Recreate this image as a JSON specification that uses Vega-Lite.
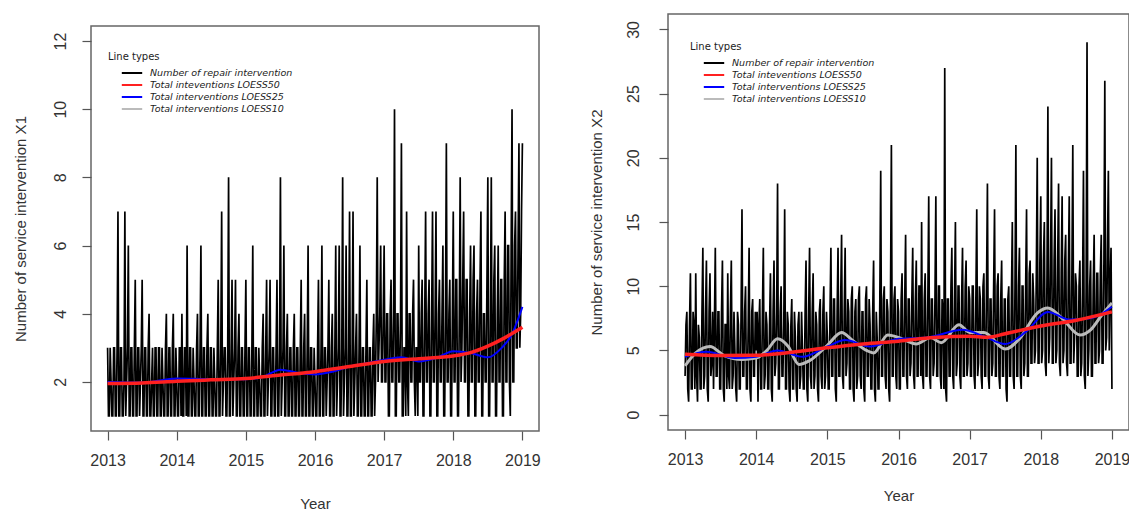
{
"$schema": "https://vega.github.io/schema/vega-lite/v6.json",
"background": "white",
"padding": {"left": 12, "top": 13, "right": 0, "bottom": 0},
"spacing": 47,
"config": {
  "font": "Liberation Sans",
  "view": {"stroke": "#666", "strokeWidth": 1.5},
  "axis": {"grid": false, "domain": false, "tickColor": "#555", "tickSize": 9, "tickWidth": 1.2, "labelFontSize": 16, "labelColor": "#333", "titleFontSize": 15, "titleFontWeight": "normal", "titleColor": "#333", "offset": 0},
  "legend": {"symbolType": "M-1.7,0H1.7", "symbolStrokeWidth": 2, "symbolSize": 144, "symbolOffset": 17, "labelOffset": 11, "labelFont": "DejaVu Sans", "labelFontStyle": "italic", "labelFontSize": 9.5, "titleFont": "DejaVu Sans", "titleFontSize": 10, "titleFontWeight": "normal", "rowPadding": 0, "titlePadding": 4, "labelColor": "#222", "titleColor": "#222", "padding": 0}
},
"datasets": {
  "x1": [
{"t":2013,"v":3},{"t":2013.0125,"v":1},{"t":2013.025,"v":1},{"t":2013.0375,"v":3},{"t":2013.05,"v":2},{"t":2013.0625,"v":1},{"t":2013.075,"v":1},{"t":2013.0875,"v":3},
{"t":2013.1,"v":3},{"t":2013.1125,"v":1},{"t":2013.125,"v":1},{"t":2013.1375,"v":3},{"t":2013.15,"v":7},{"t":2013.1625,"v":1},{"t":2013.175,"v":1},{"t":2013.1875,"v":3},
{"t":2013.2,"v":3},{"t":2013.2125,"v":1},{"t":2013.225,"v":1},{"t":2013.2375,"v":2},{"t":2013.25,"v":7},{"t":2013.2625,"v":1},{"t":2013.275,"v":2},{"t":2013.2875,"v":3},
{"t":2013.3,"v":6},{"t":2013.3125,"v":1},{"t":2013.325,"v":1},{"t":2013.3375,"v":3},{"t":2013.35,"v":3},{"t":2013.3625,"v":1},{"t":2013.375,"v":1},{"t":2013.3875,"v":3},
{"t":2013.4,"v":5},{"t":2013.4125,"v":1},{"t":2013.425,"v":1},{"t":2013.4375,"v":3},{"t":2013.45,"v":3},{"t":2013.4625,"v":1},{"t":2013.475,"v":2},{"t":2013.4875,"v":3},
{"t":2013.5,"v":5},{"t":2013.5125,"v":1},{"t":2013.525,"v":1},{"t":2013.5375,"v":3},{"t":2013.55,"v":3},{"t":2013.5625,"v":1},{"t":2013.575,"v":1},{"t":2013.5875,"v":3},
{"t":2013.6,"v":4},{"t":2013.6125,"v":1},{"t":2013.625,"v":1},{"t":2013.6375,"v":2},{"t":2013.65,"v":3},{"t":2013.6625,"v":1},{"t":2013.675,"v":1},{"t":2013.6875,"v":3},
{"t":2013.7,"v":3},{"t":2013.7125,"v":1},{"t":2013.725,"v":1},{"t":2013.7375,"v":3},{"t":2013.75,"v":3},{"t":2013.7625,"v":1},{"t":2013.775,"v":1},{"t":2013.7875,"v":3},
{"t":2013.8,"v":2},{"t":2013.8125,"v":1},{"t":2013.825,"v":1},{"t":2013.8375,"v":3},{"t":2013.85,"v":4},{"t":2013.8625,"v":1},{"t":2013.875,"v":1},{"t":2013.8875,"v":3},
{"t":2013.9,"v":3},{"t":2013.9125,"v":1},{"t":2013.925,"v":1},{"t":2013.9375,"v":3},{"t":2013.95,"v":4},{"t":2013.9625,"v":1},{"t":2013.975,"v":1},{"t":2013.9875,"v":3},
{"t":2014,"v":2},{"t":2014.0125,"v":1},{"t":2014.025,"v":1},{"t":2014.0375,"v":3},{"t":2014.05,"v":3},{"t":2014.0625,"v":1},{"t":2014.075,"v":4},{"t":2014.0875,"v":1},
{"t":2014.1,"v":1},{"t":2014.1125,"v":3},{"t":2014.125,"v":3},{"t":2014.1375,"v":1},{"t":2014.15,"v":6},{"t":2014.1625,"v":1},{"t":2014.175,"v":1},{"t":2014.1875,"v":3},
{"t":2014.2,"v":3},{"t":2014.2125,"v":1},{"t":2014.225,"v":1},{"t":2014.2375,"v":3},{"t":2014.25,"v":2},{"t":2014.2625,"v":1},{"t":2014.275,"v":1},{"t":2014.2875,"v":3},
{"t":2014.3,"v":4},{"t":2014.3125,"v":1},{"t":2014.325,"v":1},{"t":2014.3375,"v":3},{"t":2014.35,"v":6},{"t":2014.3625,"v":1},{"t":2014.375,"v":1},{"t":2014.3875,"v":3},
{"t":2014.4,"v":3},{"t":2014.4125,"v":1},{"t":2014.425,"v":1},{"t":2014.4375,"v":3},{"t":2014.45,"v":4},{"t":2014.4625,"v":1},{"t":2014.475,"v":1},{"t":2014.4875,"v":3},
{"t":2014.5,"v":3},{"t":2014.5125,"v":1},{"t":2014.525,"v":1},{"t":2014.5375,"v":3},{"t":2014.55,"v":2},{"t":2014.5625,"v":1},{"t":2014.575,"v":1},{"t":2014.5875,"v":3},
{"t":2014.6,"v":5},{"t":2014.6125,"v":1},{"t":2014.625,"v":1},{"t":2014.6375,"v":3},{"t":2014.65,"v":7},{"t":2014.6625,"v":1},{"t":2014.675,"v":2},{"t":2014.6875,"v":3},
{"t":2014.7,"v":3},{"t":2014.7125,"v":1},{"t":2014.725,"v":1},{"t":2014.7375,"v":3},{"t":2014.75,"v":8},{"t":2014.7625,"v":1},{"t":2014.775,"v":1},{"t":2014.7875,"v":3},
{"t":2014.8,"v":5},{"t":2014.8125,"v":1},{"t":2014.825,"v":2},{"t":2014.8375,"v":3},{"t":2014.85,"v":5},{"t":2014.8625,"v":1},{"t":2014.875,"v":1},{"t":2014.8875,"v":3},
{"t":2014.9,"v":4},{"t":2014.9125,"v":1},{"t":2014.925,"v":1},{"t":2014.9375,"v":3},{"t":2014.95,"v":3},{"t":2014.9625,"v":1},{"t":2014.975,"v":1},{"t":2014.9875,"v":3},
{"t":2015,"v":5},{"t":2015.0125,"v":1},{"t":2015.025,"v":1},{"t":2015.0375,"v":3},{"t":2015.05,"v":3},{"t":2015.0625,"v":1},{"t":2015.075,"v":1},{"t":2015.0875,"v":3},
{"t":2015.1,"v":6},{"t":2015.1125,"v":1},{"t":2015.125,"v":1},{"t":2015.1375,"v":3},{"t":2015.15,"v":3},{"t":2015.1625,"v":1},{"t":2015.175,"v":1},{"t":2015.1875,"v":3},
{"t":2015.2,"v":2},{"t":2015.2125,"v":1},{"t":2015.225,"v":1},{"t":2015.2375,"v":3},{"t":2015.25,"v":4},{"t":2015.2625,"v":1},{"t":2015.275,"v":1},{"t":2015.2875,"v":3},
{"t":2015.3,"v":5},{"t":2015.3125,"v":1},{"t":2015.325,"v":2},{"t":2015.3375,"v":3},{"t":2015.35,"v":5},{"t":2015.3625,"v":1},{"t":2015.375,"v":1},{"t":2015.3875,"v":3},
{"t":2015.4,"v":3},{"t":2015.4125,"v":1},{"t":2015.425,"v":1},{"t":2015.4375,"v":3},{"t":2015.45,"v":5},{"t":2015.4625,"v":1},{"t":2015.475,"v":1},{"t":2015.4875,"v":3},
{"t":2015.5,"v":8},{"t":2015.5125,"v":1},{"t":2015.525,"v":2},{"t":2015.5375,"v":3},{"t":2015.55,"v":6},{"t":2015.5625,"v":1},{"t":2015.575,"v":1},{"t":2015.5875,"v":3},
{"t":2015.6,"v":4},{"t":2015.6125,"v":1},{"t":2015.625,"v":1},{"t":2015.6375,"v":3},{"t":2015.65,"v":3},{"t":2015.6625,"v":1},{"t":2015.675,"v":1},{"t":2015.6875,"v":3},
{"t":2015.7,"v":4},{"t":2015.7125,"v":1},{"t":2015.725,"v":1},{"t":2015.7375,"v":3},{"t":2015.75,"v":3},{"t":2015.7625,"v":1},{"t":2015.775,"v":1},{"t":2015.7875,"v":3},
{"t":2015.8,"v":5},{"t":2015.8125,"v":1},{"t":2015.825,"v":1},{"t":2015.8375,"v":3},{"t":2015.85,"v":4},{"t":2015.8625,"v":1},{"t":2015.875,"v":1},{"t":2015.8875,"v":3},
{"t":2015.9,"v":6},{"t":2015.9125,"v":1},{"t":2015.925,"v":1},{"t":2015.9375,"v":3},{"t":2015.95,"v":3},{"t":2015.9625,"v":1},{"t":2015.975,"v":1},{"t":2015.9875,"v":3},
{"t":2016,"v":2},{"t":2016.0125,"v":1},{"t":2016.025,"v":1},{"t":2016.0375,"v":3},{"t":2016.05,"v":5},{"t":2016.0625,"v":1},{"t":2016.075,"v":1},{"t":2016.0875,"v":3},
{"t":2016.1,"v":6},{"t":2016.1125,"v":1},{"t":2016.125,"v":1},{"t":2016.1375,"v":3},{"t":2016.15,"v":3},{"t":2016.1625,"v":1},{"t":2016.175,"v":2},{"t":2016.1875,"v":3},
{"t":2016.2,"v":5},{"t":2016.2125,"v":1},{"t":2016.225,"v":1},{"t":2016.2375,"v":3},{"t":2016.25,"v":4},{"t":2016.2625,"v":1},{"t":2016.275,"v":1},{"t":2016.2875,"v":3},
{"t":2016.3,"v":6},{"t":2016.3125,"v":1},{"t":2016.325,"v":2},{"t":2016.3375,"v":3},{"t":2016.35,"v":6},{"t":2016.3625,"v":1},{"t":2016.375,"v":1},{"t":2016.3875,"v":3},
{"t":2016.4,"v":8},{"t":2016.4125,"v":1},{"t":2016.425,"v":2},{"t":2016.4375,"v":3},{"t":2016.45,"v":6},{"t":2016.4625,"v":1},{"t":2016.475,"v":1},{"t":2016.4875,"v":3},
{"t":2016.5,"v":7},{"t":2016.5125,"v":1},{"t":2016.525,"v":1},{"t":2016.5375,"v":3},{"t":2016.55,"v":7},{"t":2016.5625,"v":1},{"t":2016.575,"v":2},{"t":2016.5875,"v":3},
{"t":2016.6,"v":4},{"t":2016.6125,"v":1},{"t":2016.625,"v":1},{"t":2016.6375,"v":3},{"t":2016.65,"v":6},{"t":2016.6625,"v":1},{"t":2016.675,"v":1},{"t":2016.6875,"v":3},
{"t":2016.7,"v":3},{"t":2016.7125,"v":1},{"t":2016.725,"v":1},{"t":2016.7375,"v":3},{"t":2016.75,"v":5},{"t":2016.7625,"v":1},{"t":2016.775,"v":1},{"t":2016.7875,"v":3},
{"t":2016.8,"v":3},{"t":2016.8125,"v":1},{"t":2016.825,"v":1},{"t":2016.8375,"v":3},{"t":2016.85,"v":4},{"t":2016.8625,"v":1},{"t":2016.875,"v":2},{"t":2016.8875,"v":4},
{"t":2016.9,"v":8},{"t":2016.9125,"v":2},{"t":2016.925,"v":3},{"t":2016.9375,"v":4},{"t":2016.95,"v":6},{"t":2016.9625,"v":2},{"t":2016.975,"v":2},{"t":2016.9875,"v":4},
{"t":2017,"v":6},{"t":2017.0125,"v":2},{"t":2017.025,"v":2},{"t":2017.0375,"v":4},{"t":2017.05,"v":4},{"t":2017.0625,"v":1},{"t":2017.075,"v":1},{"t":2017.0875,"v":4},
{"t":2017.1,"v":5},{"t":2017.1125,"v":2},{"t":2017.125,"v":2},{"t":2017.1375,"v":4},{"t":2017.15,"v":10},{"t":2017.1625,"v":1},{"t":2017.175,"v":1},{"t":2017.1875,"v":4},
{"t":2017.2,"v":4},{"t":2017.2125,"v":2},{"t":2017.225,"v":2},{"t":2017.2375,"v":4},{"t":2017.25,"v":9},{"t":2017.2625,"v":1},{"t":2017.275,"v":1},{"t":2017.2875,"v":3},
{"t":2017.3,"v":3},{"t":2017.3125,"v":1},{"t":2017.325,"v":7},{"t":2017.3375,"v":2},{"t":2017.35,"v":1},{"t":2017.3625,"v":4},{"t":2017.375,"v":4},{"t":2017.3875,"v":2},
{"t":2017.4,"v":2},{"t":2017.4125,"v":4},{"t":2017.425,"v":5},{"t":2017.4375,"v":2},{"t":2017.45,"v":1},{"t":2017.4625,"v":3},{"t":2017.475,"v":3},{"t":2017.4875,"v":1},
{"t":2017.5,"v":6},{"t":2017.5125,"v":2},{"t":2017.525,"v":2},{"t":2017.5375,"v":4},{"t":2017.55,"v":5},{"t":2017.5625,"v":1},{"t":2017.575,"v":1},{"t":2017.5875,"v":4},
{"t":2017.6,"v":7},{"t":2017.6125,"v":2},{"t":2017.625,"v":2},{"t":2017.6375,"v":4},{"t":2017.65,"v":5},{"t":2017.6625,"v":1},{"t":2017.675,"v":1},{"t":2017.6875,"v":4},
{"t":2017.7,"v":7},{"t":2017.7125,"v":2},{"t":2017.725,"v":2},{"t":2017.7375,"v":4},{"t":2017.75,"v":7},{"t":2017.7625,"v":1},{"t":2017.775,"v":1},{"t":2017.7875,"v":4},
{"t":2017.8,"v":5},{"t":2017.8125,"v":2},{"t":2017.825,"v":2},{"t":2017.8375,"v":4},{"t":2017.85,"v":6},{"t":2017.8625,"v":1},{"t":2017.875,"v":1},{"t":2017.8875,"v":4},
{"t":2017.9,"v":9},{"t":2017.9125,"v":2},{"t":2017.925,"v":2},{"t":2017.9375,"v":4},{"t":2017.95,"v":5},{"t":2017.9625,"v":1},{"t":2017.975,"v":1},{"t":2017.9875,"v":4},
{"t":2018,"v":7},{"t":2018.0125,"v":2},{"t":2018.025,"v":2},{"t":2018.0375,"v":5},{"t":2018.05,"v":5},{"t":2018.0625,"v":1},{"t":2018.075,"v":1},{"t":2018.0875,"v":4},
{"t":2018.1,"v":8},{"t":2018.1125,"v":2},{"t":2018.125,"v":3},{"t":2018.1375,"v":5},{"t":2018.15,"v":7},{"t":2018.1625,"v":2},{"t":2018.175,"v":2},{"t":2018.1875,"v":5},
{"t":2018.2,"v":5},{"t":2018.2125,"v":1},{"t":2018.225,"v":1},{"t":2018.2375,"v":4},{"t":2018.25,"v":6},{"t":2018.2625,"v":2},{"t":2018.275,"v":2},{"t":2018.2875,"v":5},
{"t":2018.3,"v":6},{"t":2018.3125,"v":1},{"t":2018.325,"v":1},{"t":2018.3375,"v":4},{"t":2018.35,"v":5},{"t":2018.3625,"v":2},{"t":2018.375,"v":2},{"t":2018.3875,"v":5},
{"t":2018.4,"v":7},{"t":2018.4125,"v":1},{"t":2018.425,"v":1},{"t":2018.4375,"v":4},{"t":2018.45,"v":4},{"t":2018.4625,"v":2},{"t":2018.475,"v":2},{"t":2018.4875,"v":5},
{"t":2018.5,"v":8},{"t":2018.5125,"v":1},{"t":2018.525,"v":1},{"t":2018.5375,"v":4},{"t":2018.55,"v":8},{"t":2018.5625,"v":2},{"t":2018.575,"v":2},{"t":2018.5875,"v":5},
{"t":2018.6,"v":6},{"t":2018.6125,"v":1},{"t":2018.625,"v":1},{"t":2018.6375,"v":4},{"t":2018.65,"v":6},{"t":2018.6625,"v":2},{"t":2018.675,"v":2},{"t":2018.6875,"v":5},
{"t":2018.7,"v":5},{"t":2018.7125,"v":1},{"t":2018.725,"v":1},{"t":2018.7375,"v":5},{"t":2018.75,"v":7},{"t":2018.7625,"v":2},{"t":2018.775,"v":2},{"t":2018.7875,"v":6},
{"t":2018.8,"v":6},{"t":2018.8125,"v":2},{"t":2018.825,"v":1},{"t":2018.8375,"v":6},{"t":2018.85,"v":10},{"t":2018.8625,"v":2},{"t":2018.875,"v":2},{"t":2018.8875,"v":6},
{"t":2018.9,"v":7},{"t":2018.9125,"v":3},{"t":2018.925,"v":3},{"t":2018.9375,"v":6},{"t":2018.95,"v":9},{"t":2018.9625,"v":3},{"t":2018.975,"v":4},{"t":2018.9875,"v":7},
{"t":2019,"v":9}
  ],
  "x1r50": [
{"t":2013,"v":1.95},{"t":2013.5,"v":1.97},{"t":2014,"v":2.02},{"t":2014.5,"v":2.06},{"t":2015,"v":2.1},{"t":2015.5,"v":2.2},{"t":2016,"v":2.3},{"t":2016.5,"v":2.45},{"t":2017,"v":2.6},{"t":2017.5,"v":2.68},{"t":2018,"v":2.76},{"t":2018.25,"v":2.86},{"t":2018.5,"v":3.05},{"t":2018.75,"v":3.3},{"t":2019,"v":3.6}
  ],
  "x1r25": [
{"t":2013,"v":2.0},{"t":2013.5,"v":1.98},{"t":2014,"v":2.1},{"t":2014.5,"v":2.08},{"t":2015,"v":2.08},{"t":2015.25,"v":2.15},{"t":2015.5,"v":2.36},{"t":2015.75,"v":2.27},{"t":2016,"v":2.22},{"t":2016.25,"v":2.3},{"t":2016.5,"v":2.45},{"t":2016.75,"v":2.55},{"t":2017,"v":2.65},{"t":2017.25,"v":2.72},{"t":2017.5,"v":2.6},{"t":2017.75,"v":2.7},{"t":2018,"v":2.9},{"t":2018.25,"v":2.85},{"t":2018.5,"v":2.72},{"t":2018.7,"v":3.0},{"t":2018.85,"v":3.4},{"t":2019,"v":4.2}
  ],
  "x2": [
{"t":2013,"v":3},{"t":2013.0125,"v":7},{"t":2013.025,"v":8},{"t":2013.0375,"v":2},{"t":2013.05,"v":1},{"t":2013.0625,"v":7},{"t":2013.075,"v":11},{"t":2013.0875,"v":2},
{"t":2013.1,"v":2},{"t":2013.1125,"v":8},{"t":2013.125,"v":7},{"t":2013.1375,"v":2},{"t":2013.15,"v":11},{"t":2013.1625,"v":3},{"t":2013.175,"v":1},{"t":2013.1875,"v":7},
{"t":2013.2,"v":6},{"t":2013.2125,"v":2},{"t":2013.225,"v":2},{"t":2013.2375,"v":8},{"t":2013.25,"v":13},{"t":2013.2625,"v":2},{"t":2013.275,"v":3},{"t":2013.2875,"v":8},
{"t":2013.3,"v":12},{"t":2013.3125,"v":2},{"t":2013.325,"v":1},{"t":2013.3375,"v":8},{"t":2013.35,"v":11},{"t":2013.3625,"v":3},{"t":2013.375,"v":4},{"t":2013.3875,"v":8},
{"t":2013.4,"v":2},{"t":2013.4125,"v":7},{"t":2013.425,"v":13},{"t":2013.4375,"v":3},{"t":2013.45,"v":3},{"t":2013.4625,"v":8},{"t":2013.475,"v":8},{"t":2013.4875,"v":2},
{"t":2013.5,"v":2},{"t":2013.5125,"v":8},{"t":2013.525,"v":12},{"t":2013.5375,"v":2},{"t":2013.55,"v":1},{"t":2013.5625,"v":7},{"t":2013.575,"v":7},{"t":2013.5875,"v":2},
{"t":2013.6,"v":11},{"t":2013.6125,"v":3},{"t":2013.625,"v":2},{"t":2013.6375,"v":8},{"t":2013.65,"v":12},{"t":2013.6625,"v":2},{"t":2013.675,"v":3},{"t":2013.6875,"v":8},
{"t":2013.7,"v":5},{"t":2013.7125,"v":2},{"t":2013.725,"v":1},{"t":2013.7375,"v":8},{"t":2013.75,"v":7},{"t":2013.7625,"v":2},{"t":2013.775,"v":2},{"t":2013.7875,"v":8},
{"t":2013.8,"v":16},{"t":2013.8125,"v":3},{"t":2013.825,"v":3},{"t":2013.8375,"v":8},{"t":2013.85,"v":10},{"t":2013.8625,"v":2},{"t":2013.875,"v":2},{"t":2013.8875,"v":7},
{"t":2013.9,"v":13},{"t":2013.9125,"v":2},{"t":2013.925,"v":1},{"t":2013.9375,"v":8},{"t":2013.95,"v":9},{"t":2013.9625,"v":3},{"t":2013.975,"v":3},{"t":2013.9875,"v":8},
{"t":2014,"v":5},{"t":2014.0125,"v":8},{"t":2014.025,"v":1},{"t":2014.0375,"v":7},{"t":2014.05,"v":9},{"t":2014.0625,"v":2},{"t":2014.075,"v":2},{"t":2014.0875,"v":8},
{"t":2014.1,"v":13},{"t":2014.1125,"v":2},{"t":2014.125,"v":3},{"t":2014.1375,"v":8},{"t":2014.15,"v":7},{"t":2014.1625,"v":2},{"t":2014.175,"v":2},{"t":2014.1875,"v":7},
{"t":2014.2,"v":11},{"t":2014.2125,"v":2},{"t":2014.225,"v":1},{"t":2014.2375,"v":8},{"t":2014.25,"v":12},{"t":2014.2625,"v":3},{"t":2014.275,"v":4},{"t":2014.2875,"v":8},
{"t":2014.3,"v":18},{"t":2014.3125,"v":2},{"t":2014.325,"v":2},{"t":2014.3375,"v":8},{"t":2014.35,"v":10},{"t":2014.3625,"v":3},{"t":2014.375,"v":3},{"t":2014.3875,"v":7},
{"t":2014.4,"v":16},{"t":2014.4125,"v":2},{"t":2014.425,"v":2},{"t":2014.4375,"v":8},{"t":2014.45,"v":7},{"t":2014.4625,"v":2},{"t":2014.475,"v":1},{"t":2014.4875,"v":7},
{"t":2014.5,"v":9},{"t":2014.5125,"v":2},{"t":2014.525,"v":2},{"t":2014.5375,"v":8},{"t":2014.55,"v":6},{"t":2014.5625,"v":2},{"t":2014.575,"v":1},{"t":2014.5875,"v":7},
{"t":2014.6,"v":8},{"t":2014.6125,"v":2},{"t":2014.625,"v":3},{"t":2014.6375,"v":8},{"t":2014.65,"v":5},{"t":2014.6625,"v":2},{"t":2014.675,"v":2},{"t":2014.6875,"v":8},
{"t":2014.7,"v":12},{"t":2014.7125,"v":2},{"t":2014.725,"v":1},{"t":2014.7375,"v":8},{"t":2014.75,"v":13},{"t":2014.7625,"v":3},{"t":2014.775,"v":2},{"t":2014.7875,"v":8},
{"t":2014.8,"v":11},{"t":2014.8125,"v":2},{"t":2014.825,"v":3},{"t":2014.8375,"v":8},{"t":2014.85,"v":7},{"t":2014.8625,"v":2},{"t":2014.875,"v":1},{"t":2014.8875,"v":8},
{"t":2014.9,"v":9},{"t":2014.9125,"v":3},{"t":2014.925,"v":2},{"t":2014.9375,"v":8},{"t":2014.95,"v":10},{"t":2014.9625,"v":2},{"t":2014.975,"v":3},{"t":2014.9875,"v":8},
{"t":2015,"v":6},{"t":2015.0125,"v":2},{"t":2015.025,"v":2},{"t":2015.0375,"v":8},{"t":2015.05,"v":13},{"t":2015.0625,"v":3},{"t":2015.075,"v":3},{"t":2015.0875,"v":9},
{"t":2015.1,"v":9},{"t":2015.1125,"v":2},{"t":2015.125,"v":1},{"t":2015.1375,"v":8},{"t":2015.15,"v":13},{"t":2015.1625,"v":3},{"t":2015.175,"v":3},{"t":2015.1875,"v":9},
{"t":2015.2,"v":14},{"t":2015.2125,"v":3},{"t":2015.225,"v":2},{"t":2015.2375,"v":8},{"t":2015.25,"v":13},{"t":2015.2625,"v":3},{"t":2015.275,"v":4},{"t":2015.2875,"v":9},
{"t":2015.3,"v":8},{"t":2015.3125,"v":2},{"t":2015.325,"v":2},{"t":2015.3375,"v":9},{"t":2015.35,"v":10},{"t":2015.3625,"v":2},{"t":2015.375,"v":1},{"t":2015.3875,"v":8},
{"t":2015.4,"v":9},{"t":2015.4125,"v":2},{"t":2015.425,"v":3},{"t":2015.4375,"v":9},{"t":2015.45,"v":10},{"t":2015.4625,"v":3},{"t":2015.475,"v":2},{"t":2015.4875,"v":8},
{"t":2015.5,"v":8},{"t":2015.5125,"v":2},{"t":2015.525,"v":1},{"t":2015.5375,"v":9},{"t":2015.55,"v":10},{"t":2015.5625,"v":3},{"t":2015.575,"v":3},{"t":2015.5875,"v":9},
{"t":2015.6,"v":7},{"t":2015.6125,"v":2},{"t":2015.625,"v":2},{"t":2015.6375,"v":8},{"t":2015.65,"v":12},{"t":2015.6625,"v":2},{"t":2015.675,"v":1},{"t":2015.6875,"v":8},
{"t":2015.7,"v":6},{"t":2015.7125,"v":2},{"t":2015.725,"v":2},{"t":2015.7375,"v":9},{"t":2015.75,"v":19},{"t":2015.7625,"v":3},{"t":2015.775,"v":3},{"t":2015.7875,"v":9},
{"t":2015.8,"v":10},{"t":2015.8125,"v":3},{"t":2015.825,"v":2},{"t":2015.8375,"v":9},{"t":2015.85,"v":8},{"t":2015.8625,"v":2},{"t":2015.875,"v":1},{"t":2015.8875,"v":9},
{"t":2015.9,"v":21},{"t":2015.9125,"v":3},{"t":2015.925,"v":3},{"t":2015.9375,"v":9},{"t":2015.95,"v":10},{"t":2015.9625,"v":3},{"t":2015.975,"v":2},{"t":2015.9875,"v":9},
{"t":2016,"v":8},{"t":2016.0125,"v":2},{"t":2016.025,"v":2},{"t":2016.0375,"v":9},{"t":2016.05,"v":11},{"t":2016.0625,"v":3},{"t":2016.075,"v":3},{"t":2016.0875,"v":9},
{"t":2016.1,"v":14},{"t":2016.1125,"v":3},{"t":2016.125,"v":2},{"t":2016.1375,"v":9},{"t":2016.15,"v":9},{"t":2016.1625,"v":3},{"t":2016.175,"v":4},{"t":2016.1875,"v":9},
{"t":2016.2,"v":13},{"t":2016.2125,"v":3},{"t":2016.225,"v":2},{"t":2016.2375,"v":9},{"t":2016.25,"v":12},{"t":2016.2625,"v":3},{"t":2016.275,"v":3},{"t":2016.2875,"v":10},
{"t":2016.3,"v":10},{"t":2016.3125,"v":3},{"t":2016.325,"v":15},{"t":2016.3375,"v":3},{"t":2016.35,"v":2},{"t":2016.3625,"v":9},{"t":2016.375,"v":11},{"t":2016.3875,"v":3},
{"t":2016.4,"v":3},{"t":2016.4125,"v":9},{"t":2016.425,"v":17},{"t":2016.4375,"v":3},{"t":2016.45,"v":2},{"t":2016.4625,"v":9},{"t":2016.475,"v":9},{"t":2016.4875,"v":3},
{"t":2016.5,"v":4},{"t":2016.5125,"v":9},{"t":2016.525,"v":17},{"t":2016.5375,"v":3},{"t":2016.55,"v":3},{"t":2016.5625,"v":10},{"t":2016.575,"v":10},{"t":2016.5875,"v":3},
{"t":2016.6,"v":2},{"t":2016.6125,"v":9},{"t":2016.625,"v":8},{"t":2016.6375,"v":2},{"t":2016.65,"v":27},{"t":2016.6625,"v":2},{"t":2016.675,"v":1},{"t":2016.6875,"v":9},
{"t":2016.7,"v":9},{"t":2016.7125,"v":3},{"t":2016.725,"v":3},{"t":2016.7375,"v":10},{"t":2016.75,"v":13},{"t":2016.7625,"v":3},{"t":2016.775,"v":2},{"t":2016.7875,"v":9},
{"t":2016.8,"v":15},{"t":2016.8125,"v":3},{"t":2016.825,"v":4},{"t":2016.8375,"v":10},{"t":2016.85,"v":10},{"t":2016.8625,"v":3},{"t":2016.875,"v":2},{"t":2016.8875,"v":9},
{"t":2016.9,"v":13},{"t":2016.9125,"v":3},{"t":2016.925,"v":3},{"t":2016.9375,"v":10},{"t":2016.95,"v":12},{"t":2016.9625,"v":3},{"t":2016.975,"v":4},{"t":2016.9875,"v":10},
{"t":2017,"v":9},{"t":2017.0125,"v":3},{"t":2017.025,"v":3},{"t":2017.0375,"v":10},{"t":2017.05,"v":10},{"t":2017.0625,"v":3},{"t":2017.075,"v":2},{"t":2017.0875,"v":9},
{"t":2017.1,"v":16},{"t":2017.1125,"v":3},{"t":2017.125,"v":4},{"t":2017.1375,"v":10},{"t":2017.15,"v":9},{"t":2017.1625,"v":3},{"t":2017.175,"v":2},{"t":2017.1875,"v":10},
{"t":2017.2,"v":11},{"t":2017.2125,"v":3},{"t":2017.225,"v":3},{"t":2017.2375,"v":10},{"t":2017.25,"v":18},{"t":2017.2625,"v":3},{"t":2017.275,"v":2},{"t":2017.2875,"v":9},
{"t":2017.3,"v":9},{"t":2017.3125,"v":3},{"t":2017.325,"v":4},{"t":2017.3375,"v":10},{"t":2017.35,"v":16},{"t":2017.3625,"v":3},{"t":2017.375,"v":3},{"t":2017.3875,"v":10},
{"t":2017.4,"v":11},{"t":2017.4125,"v":3},{"t":2017.425,"v":2},{"t":2017.4375,"v":9},{"t":2017.45,"v":12},{"t":2017.4625,"v":3},{"t":2017.475,"v":3},{"t":2017.4875,"v":9},
{"t":2017.5,"v":9},{"t":2017.5125,"v":2},{"t":2017.525,"v":1},{"t":2017.5375,"v":9},{"t":2017.55,"v":10},{"t":2017.5625,"v":3},{"t":2017.575,"v":3},{"t":2017.5875,"v":9},
{"t":2017.6,"v":15},{"t":2017.6125,"v":3},{"t":2017.625,"v":2},{"t":2017.6375,"v":10},{"t":2017.65,"v":21},{"t":2017.6625,"v":3},{"t":2017.675,"v":3},{"t":2017.6875,"v":10},
{"t":2017.7,"v":13},{"t":2017.7125,"v":3},{"t":2017.725,"v":2},{"t":2017.7375,"v":10},{"t":2017.75,"v":10},{"t":2017.7625,"v":3},{"t":2017.775,"v":4},{"t":2017.7875,"v":10},
{"t":2017.8,"v":16},{"t":2017.8125,"v":3},{"t":2017.825,"v":3},{"t":2017.8375,"v":11},{"t":2017.85,"v":12},{"t":2017.8625,"v":4},{"t":2017.875,"v":4},{"t":2017.8875,"v":11},
{"t":2017.9,"v":9},{"t":2017.9125,"v":4},{"t":2017.925,"v":5},{"t":2017.9375,"v":11},{"t":2017.95,"v":20},{"t":2017.9625,"v":4},{"t":2017.975,"v":4},{"t":2017.9875,"v":12},
{"t":2018,"v":17},{"t":2018.0125,"v":4},{"t":2018.025,"v":5},{"t":2018.0375,"v":12},{"t":2018.05,"v":15},{"t":2018.0625,"v":4},{"t":2018.075,"v":3},{"t":2018.0875,"v":11},
{"t":2018.1,"v":24},{"t":2018.1125,"v":4},{"t":2018.125,"v":6},{"t":2018.1375,"v":12},{"t":2018.15,"v":20},{"t":2018.1625,"v":4},{"t":2018.175,"v":4},{"t":2018.1875,"v":12},
{"t":2018.2,"v":16},{"t":2018.2125,"v":4},{"t":2018.225,"v":5},{"t":2018.2375,"v":12},{"t":2018.25,"v":18},{"t":2018.2625,"v":4},{"t":2018.275,"v":3},{"t":2018.2875,"v":11},
{"t":2018.3,"v":17},{"t":2018.3125,"v":4},{"t":2018.325,"v":5},{"t":2018.3375,"v":12},{"t":2018.35,"v":14},{"t":2018.3625,"v":4},{"t":2018.375,"v":3},{"t":2018.3875,"v":11},
{"t":2018.4,"v":17},{"t":2018.4125,"v":4},{"t":2018.425,"v":4},{"t":2018.4375,"v":11},{"t":2018.45,"v":21},{"t":2018.4625,"v":4},{"t":2018.475,"v":6},{"t":2018.4875,"v":11},
{"t":2018.5,"v":10},{"t":2018.5125,"v":3},{"t":2018.525,"v":3},{"t":2018.5375,"v":10},{"t":2018.55,"v":12},{"t":2018.5625,"v":3},{"t":2018.575,"v":4},{"t":2018.5875,"v":10},
{"t":2018.6,"v":19},{"t":2018.6125,"v":3},{"t":2018.625,"v":2},{"t":2018.6375,"v":10},{"t":2018.65,"v":29},{"t":2018.6625,"v":3},{"t":2018.675,"v":5},{"t":2018.6875,"v":10},
{"t":2018.7,"v":12},{"t":2018.7125,"v":3},{"t":2018.725,"v":3},{"t":2018.7375,"v":10},{"t":2018.75,"v":14},{"t":2018.7625,"v":4},{"t":2018.775,"v":4},{"t":2018.7875,"v":11},
{"t":2018.8,"v":11},{"t":2018.8125,"v":4},{"t":2018.825,"v":5},{"t":2018.8375,"v":11},{"t":2018.85,"v":14},{"t":2018.8625,"v":4},{"t":2018.875,"v":4},{"t":2018.8875,"v":12},
{"t":2018.9,"v":26},{"t":2018.9125,"v":5},{"t":2018.925,"v":6},{"t":2018.9375,"v":13},{"t":2018.95,"v":19},{"t":2018.9625,"v":5},{"t":2018.975,"v":10},{"t":2018.9875,"v":13},
{"t":2019,"v":2}
  ],
  "x2r50": [
{"t":2013,"v":4.7},{"t":2013.5,"v":4.6},{"t":2014,"v":4.62},{"t":2014.5,"v":4.85},{"t":2015,"v":5.2},{"t":2015.5,"v":5.5},{"t":2016,"v":5.72},{"t":2016.5,"v":6.0},{"t":2017,"v":6.1},{"t":2017.25,"v":6.02},{"t":2017.5,"v":6.3},{"t":2018,"v":6.9},{"t":2018.5,"v":7.35},{"t":2019,"v":8.0}
  ],
  "x2r25": [
{"t":2013,"v":4.5},{"t":2013.3,"v":4.9},{"t":2013.7,"v":4.4},{"t":2014,"v":4.5},{"t":2014.3,"v":5.0},{"t":2014.65,"v":4.5},{"t":2015,"v":5.3},{"t":2015.25,"v":5.8},{"t":2015.6,"v":5.3},{"t":2016,"v":5.9},{"t":2016.4,"v":6.0},{"t":2016.9,"v":6.6},{"t":2017.2,"v":6.1},{"t":2017.5,"v":5.5},{"t":2017.8,"v":6.5},{"t":2018.1,"v":8.0},{"t":2018.4,"v":7.4},{"t":2018.7,"v":7.5},{"t":2019,"v":8.4}
  ],
  "x2r10": [
{"t":2013,"v":3.8},{"t":2013.15,"v":4.8},{"t":2013.35,"v":5.3},{"t":2013.55,"v":4.6},{"t":2013.8,"v":4.3},{"t":2014,"v":4.4},{"t":2014.15,"v":5.0},{"t":2014.3,"v":5.9},{"t":2014.45,"v":5.3},{"t":2014.6,"v":3.9},{"t":2014.75,"v":4.2},{"t":2015,"v":5.4},{"t":2015.2,"v":6.4},{"t":2015.35,"v":5.8},{"t":2015.55,"v":5.0},{"t":2015.65,"v":4.8},{"t":2015.85,"v":6.2},{"t":2016.05,"v":5.9},{"t":2016.25,"v":5.5},{"t":2016.45,"v":6.0},{"t":2016.6,"v":5.6},{"t":2016.85,"v":7.0},{"t":2017,"v":6.4},{"t":2017.2,"v":6.4},{"t":2017.5,"v":5.1},{"t":2017.7,"v":5.9},{"t":2017.95,"v":7.9},{"t":2018.1,"v":8.3},{"t":2018.3,"v":7.5},{"t":2018.55,"v":6.2},{"t":2018.7,"v":6.6},{"t":2018.85,"v":7.7},{"t":2019,"v":8.7}
  ]
},
"resolve": {"scale": {"color": "independent"}},
"hconcat": [
  {
    "spacing": 10,
    "vconcat": [
      {"width": 448, "height": 1, "data": {"values": []}, "mark": {"type": "point", "opacity": 0}, "view": {"stroke": null}},
      {
        "width": 448, "height": 405,
        "layer": [
          {"data": {"name": "x1"}, "mark": {"type": "line", "strokeWidth": 1.7},
           "encoding": {
             "x": {"field": "t", "type": "quantitative", "scale": {"domain": [2012.76, 2019.24], "nice": false, "zero": false},
                   "axis": {"values": [2013, 2014, 2015, 2016, 2017, 2018, 2019], "format": "d", "title": "Year", "labelPadding": 12, "titlePadding": 28}},
             "y": {"field": "v", "type": "quantitative", "scale": {"domain": [0.56, 12.44], "nice": false, "zero": false},
                   "axis": {"values": [2, 4, 6, 8, 10, 12], "labelAngle": -90, "labelAlign": "center", "labelBaseline": "bottom", "labelPadding": 14, "title": "Number of service intervention X1", "titlePadding": 24}},
             "color": {"datum": "Number of repair intervention", "type": "nominal",
                       "scale": {"domain": ["Number of repair intervention", "Total inteventions LOESS50", "Total interventions LOESS25", " Total interventions LOESS10"], "range": ["#000000", "#ff2020", "#0000ff", "#bbbbbb"]},
                       "legend": {"title": "Line types", "orient": "none", "legendX": 17, "legendY": 38}}
           }},
          {"data": {"name": "x1r25"}, "mark": {"type": "line", "strokeWidth": 2, "interpolate": "monotone"},
           "encoding": {"x": {"field": "t", "type": "quantitative"}, "y": {"field": "v", "type": "quantitative"}, "color": {"datum": "Total interventions LOESS25", "type": "nominal"}}},
          {"data": {"name": "x1r50"}, "mark": {"type": "line", "strokeWidth": 3.5, "interpolate": "monotone"},
           "encoding": {"x": {"field": "t", "type": "quantitative"}, "y": {"field": "v", "type": "quantitative"}, "color": {"datum": "Total inteventions LOESS50", "type": "nominal"}}}
        ]
      }
    ]
  },
  {
    "width": 461, "height": 416,
    "layer": [
      {"data": {"name": "x2"}, "mark": {"type": "line", "strokeWidth": 1.7},
       "encoding": {
         "x": {"field": "t", "type": "quantitative", "scale": {"domain": [2012.76, 2019.24], "nice": false, "zero": false},
               "axis": {"values": [2013, 2014, 2015, 2016, 2017, 2018, 2019], "format": "d", "title": "Year", "labelPadding": 12, "titlePadding": 21}},
         "y": {"field": "v", "type": "quantitative", "scale": {"domain": [-1.2, 31.2], "nice": false, "zero": false},
               "axis": {"values": [0, 5, 10, 15, 20, 25, 30], "labelAngle": -90, "labelAlign": "center", "labelBaseline": "bottom", "labelPadding": 18, "title": "Number of service intervention X2", "titlePadding": 21}},
         "color": {"datum": "Number of repair intervention", "type": "nominal",
                   "scale": {"domain": ["Number of repair intervention", "Total inteventions LOESS50", "Total interventions LOESS25", " Total interventions LOESS10"], "range": ["#000000", "#ff2020", "#0000ff", "#bbbbbb"]},
                   "legend": {"title": "Line types", "orient": "none", "legendX": 22, "legendY": 28}}
       }},
      {"data": {"name": "x2r10"}, "mark": {"type": "line", "strokeWidth": 3, "interpolate": "monotone"},
       "encoding": {"x": {"field": "t", "type": "quantitative"}, "y": {"field": "v", "type": "quantitative"}, "color": {"datum": " Total interventions LOESS10", "type": "nominal"}}},
      {"data": {"name": "x2r25"}, "mark": {"type": "line", "strokeWidth": 2, "interpolate": "monotone"},
       "encoding": {"x": {"field": "t", "type": "quantitative"}, "y": {"field": "v", "type": "quantitative"}, "color": {"datum": "Total interventions LOESS25", "type": "nominal"}}},
      {"data": {"name": "x2r50"}, "mark": {"type": "line", "strokeWidth": 3.5, "interpolate": "monotone"},
       "encoding": {"x": {"field": "t", "type": "quantitative"}, "y": {"field": "v", "type": "quantitative"}, "color": {"datum": "Total inteventions LOESS50", "type": "nominal"}}}
    ]
  }
]
}
